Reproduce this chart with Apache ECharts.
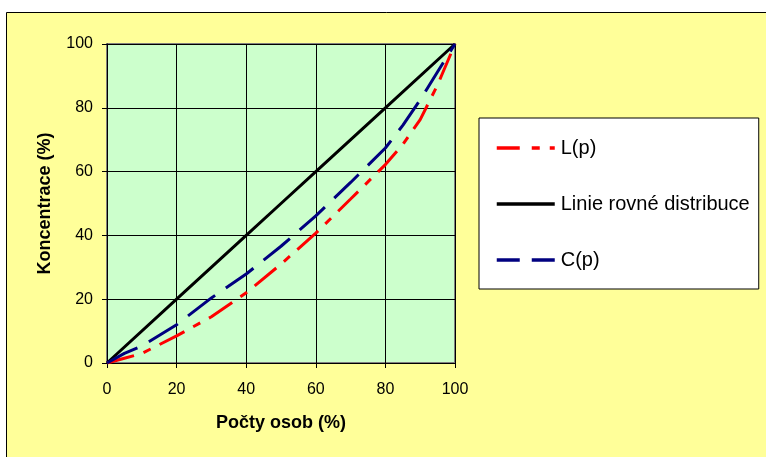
<!DOCTYPE html>
<html>
<head>
<meta charset="utf-8">
<script src="https://cdn.jsdelivr.net/npm/echarts@6/dist/echarts.min.js"></script>
<style>
  html, body { margin: 0; padding: 0; background: #ffffff; }
  #chart { width: 766px; height: 457px; }
</style>
</head>
<body>
<div id="chart"></div>
<script>
// Lorenz-type concentration curves: share of persons (x) vs. concentration (y), in %
const xTicks = [0, 20, 40, 60, 80, 100];
const yTicks = [0, 20, 40, 60, 80, 100];

const seriesNames = ['L(p)', 'Linie rovné distribuce', 'C(p)'];

const lX = [0, 5, 10, 20, 30, 40, 50, 60, 70, 80, 85, 90, 95, 100];
const lY = [0, 1.5, 3, 8.5, 14.5, 22, 31, 40.7, 51.4, 62.2, 68.5, 76.3, 87.2, 100];

const eqX = [0, 20, 40, 50, 60, 80, 100];
const eqY = [0, 20, 40, 50, 60, 80, 100];

const cX = [0, 5, 10, 20, 30, 40, 50, 60, 70, 80, 85, 90, 95, 100];
const cY = [0, 3, 5.3, 12, 20.4, 27.9, 36.6, 46.1, 56.6, 67.4, 74.5, 82.5, 91.3, 100];

const pairs = (xs, ys) => xs.map((x, i) => [x, ys[i]]);

const FONT = "'Liberation Sans', Arial, sans-serif";

const chart = echarts.init(document.getElementById('chart'), null, { renderer: 'canvas' });

// legend keys show only the line stroke, no marker
const hiddenMarker = { color: 'transparent', borderWidth: 0, opacity: 0 };

chart.setOption({
  animation: false,
  backgroundColor: '#ffffff',
  graphic: [{
    type: 'rect',
    z: -100,
    silent: true,
    shape: { x: 6.5, y: 12.5, width: 800, height: 500 },
    style: { fill: '#FFFF99', stroke: '#000000', lineWidth: 1 }
  }],
  grid: {
    left: 107, top: 44, width: 348, height: 319,
    show: true,
    backgroundColor: '#CCFFCC',
    borderColor: '#808080',
    borderWidth: 2
  },
  legend: {
    orient: 'vertical',
    left: 479, top: 118,
    padding: [20, 9, 19, 16],
    itemGap: 36,
    itemWidth: 58,
    itemHeight: 14,
    backgroundColor: '#ffffff',
    borderColor: '#000000',
    borderWidth: 1,
    itemStyle: hiddenMarker,
    textStyle: { fontFamily: FONT, fontSize: 20, color: '#000000', padding: [0, 0, 0, 1] },
    data: [
      { name: seriesNames[0], itemStyle: hiddenMarker, lineStyle: { width: 3.5, color: '#FF0000', type: [23, 12, 8, 10] } },
      { name: seriesNames[1], itemStyle: hiddenMarker, lineStyle: { width: 3.5, color: '#000000', type: 'solid' } },
      { name: seriesNames[2], itemStyle: hiddenMarker, lineStyle: { width: 3.5, color: '#000080', type: [23, 12] } }
    ]
  },
  xAxis: {
    type: 'value',
    min: 0, max: 100, interval: 20,
    name: 'Počty osob (%)',
    nameLocation: 'middle',
    nameGap: 51,
    nameTextStyle: { fontFamily: FONT, fontSize: 18, fontWeight: 'bold', color: '#000000' },
    axisLine: { show: true, onZero: false, lineStyle: { color: '#000000', width: 1 } },
    axisTick: { show: true, inside: false, length: 5, lineStyle: { color: '#000000' } },
    axisLabel: {
      margin: 19, fontFamily: FONT, fontSize: 16, color: '#000000',
      formatter: v => xTicks.includes(v) ? String(v) : ''
    },
    splitLine: { show: true, lineStyle: { color: '#000000', width: 1 } }
  },
  yAxis: {
    type: 'value',
    min: 0, max: 100, interval: 20,
    name: 'Koncentrace (%)',
    nameLocation: 'middle',
    nameGap: 53,
    nameRotate: 90,
    nameTextStyle: { fontFamily: FONT, fontSize: 18, fontWeight: 'bold', color: '#000000' },
    axisLine: { show: true, onZero: false, lineStyle: { color: '#000000', width: 1 } },
    axisTick: { show: true, inside: false, length: 5, lineStyle: { color: '#000000' } },
    axisLabel: {
      margin: 14, fontFamily: FONT, fontSize: 16, color: '#000000',
      formatter: v => yTicks.includes(v) ? String(v) : ''
    },
    splitLine: { show: true, lineStyle: { color: '#000000', width: 1 } }
  },
  series: [
    {
      name: seriesNames[1],
      type: 'line',
      data: pairs(eqX, eqY),
      symbol: 'none',
      lineStyle: { color: '#000000', width: 3, type: 'solid' },
      itemStyle: { color: '#000000' },
      z: 2
    },
    {
      name: seriesNames[0],
      type: 'line',
      data: pairs(lX, lY),
      symbol: 'none',
      lineStyle: { color: '#FF0000', width: 3, type: [28, 10, 8, 10] },
      itemStyle: { color: '#FF0000' },
      z: 3
    },
    {
      name: seriesNames[2],
      type: 'line',
      data: pairs(cX, cY),
      symbol: 'none',
      lineStyle: { color: '#000080', width: 3, type: [34, 13] },
      itemStyle: { color: '#000080' },
      z: 4
    }
  ]
});
</script>
</body>
</html>
